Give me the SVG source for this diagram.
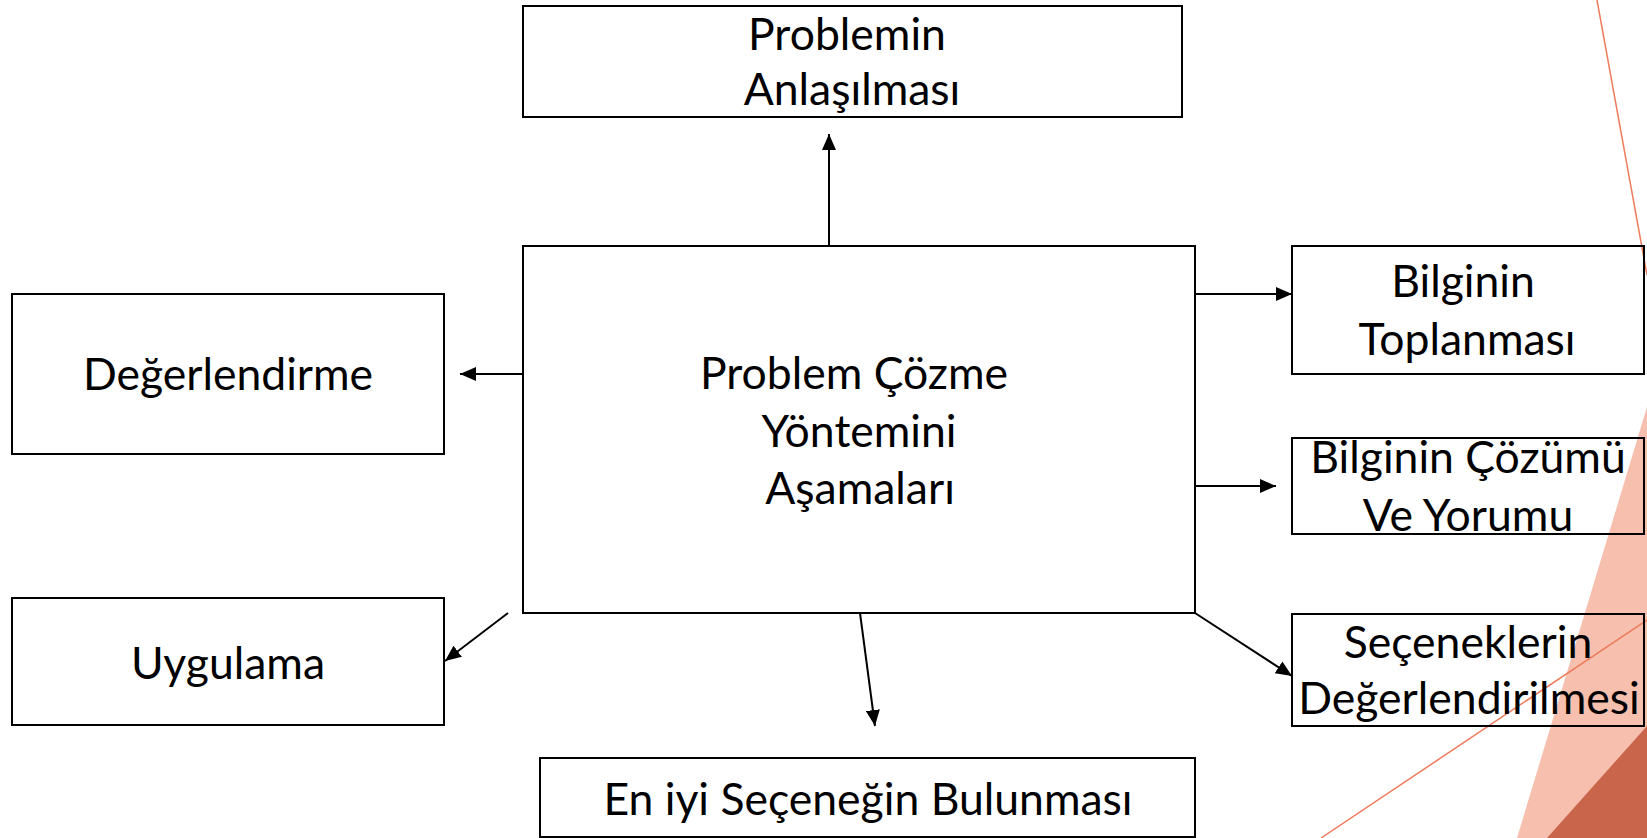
<svg xmlns="http://www.w3.org/2000/svg" width="1647" height="838" viewBox="0 0 1647 838">
<style>
.box{fill:none;stroke:#000;stroke-width:2}
.t{font-family:Lato,"Open Sans","Liberation Sans",sans-serif;font-size:44.5px;fill:#000;text-anchor:middle}
.c{stroke:#000;stroke-width:2;fill:none;marker-end:url(#ah)}
</style>
<defs>
<marker id="ah" markerUnits="userSpaceOnUse" markerWidth="17" markerHeight="14" refX="16" refY="7" orient="auto">
<path d="M0,0 L16,7 L0,14 z" fill="#000"/>
</marker>
</defs>
<rect width="1647" height="838" fill="#fff"/>
<g id="decor">
<polygon points="1647,407 1647,838 1517,838" fill="#F6BFAE"/>
<polygon points="1647,726 1647,838 1547,838" fill="#C9654A"/>
<line x1="1597" y1="0" x2="1647" y2="275" stroke="#EE7B5B" stroke-width="1.5"/>
<line x1="1321" y1="838" x2="1647" y2="620" stroke="#EE7B5B" stroke-width="1.5"/>
</g>
<g id="connectors">
<line class="c" x1="829" y1="246" x2="829" y2="134"/>
<line class="c" x1="523" y1="374" x2="460" y2="374"/>
<line class="c" x1="508" y1="613" x2="445" y2="661"/>
<line class="c" x1="860" y1="613" x2="875" y2="726"/>
<line class="c" x1="1195" y1="294" x2="1292" y2="294"/>
<line class="c" x1="1195" y1="486" x2="1276" y2="486"/>
<line class="c" x1="1195" y1="613" x2="1292" y2="676"/>
</g>
<g id="center">
<rect class="box" x="523" y="246" width="672" height="367"/>
<text class="t" x="854" y="389">Problem Çözme</text>
<text class="t" x="859" y="447">Yöntemini</text>
<text class="t" x="860" y="504">Aşamaları</text>
</g>
<g id="top">
<rect class="box" x="523" y="6" width="659" height="111"/>
<text class="t" x="847" y="50">Problemin</text>
<text class="t" x="852" y="105">Anlaşılması</text>
</g>
<g id="degerlendirme">
<rect class="box" x="12" y="294" width="432" height="160"/>
<text class="t" x="228" y="390">Değerlendirme</text>
</g>
<g id="uygulama">
<rect class="box" x="12" y="598" width="432" height="127"/>
<text class="t" x="228" y="679">Uygulama</text>
</g>
<g id="bottom">
<rect class="box" x="540" y="758" width="655" height="79"/>
<text class="t" x="868" y="815">En iyi Seçeneğin Bulunması</text>
</g>
<g id="toplanmasi">
<rect class="box" x="1292" y="246" width="352" height="128"/>
<text class="t" x="1463" y="297">Bilginin</text>
<text class="t" x="1467" y="355">Toplanması</text>
</g>
<g id="cozumu">
<rect class="box" x="1292" y="438" width="352" height="96"/>
<text class="t" x="1468" y="473">Bilginin Çözümü</text>
<text class="t" x="1468" y="531">Ve Yorumu</text>
</g>
<g id="secenekler">
<rect class="box" x="1292" y="614" width="352" height="112"/>
<text class="t" x="1468" y="658">Seçeneklerin</text>
<text class="t" x="1469" y="714">Değerlendirilmesi</text>
</g>
</svg>
